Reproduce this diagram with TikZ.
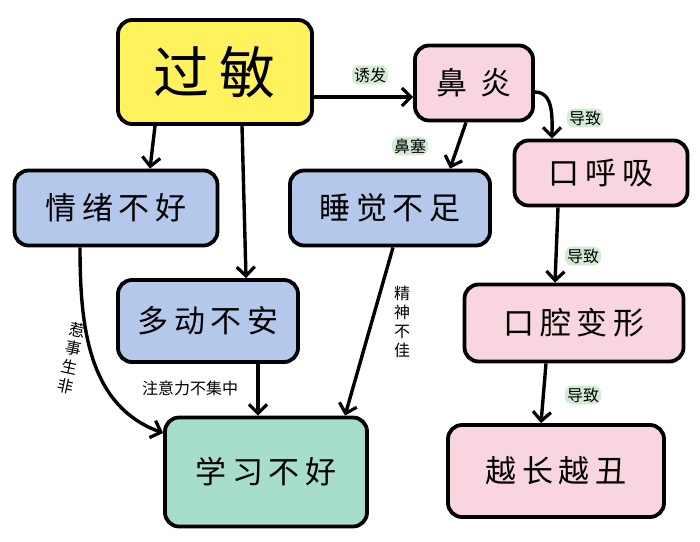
\documentclass[tikz,border=0pt]{standalone}
\usepackage{fontspec}
\newfontfamily\cjk{Noto Sans CJK SC}
\newfontfamily\cjks[LetterSpace=18]{Noto Sans CJK SC}
\usetikzlibrary{arrows.meta}
\definecolor{cyel}{HTML}{FFF25C}
\definecolor{cpink}{HTML}{F9D6DF}
\definecolor{cblue}{HTML}{B4C8EC}
\definecolor{cgreen}{HTML}{A7DDCB}
\definecolor{clab}{HTML}{D3EBD5}
\tikzset{
 box/.style={draw=black,line width=3.8pt,rounded corners=14pt,font=\cjks\fontsize{31}{34}\selectfont,inner sep=0pt},
 conn/.style={line width=3.4pt,-{Straight Barb[length=9pt,width=18pt,line width=3.2pt]}},
 lab/.style={font=\cjk\fontsize{16}{18}\selectfont,fill=clab,rounded corners=7pt,inner sep=2pt},
 plainlab/.style={font=\cjk\fontsize{16}{19}\selectfont,inner sep=1pt,align=center}
}
\begin{document}
\begin{tikzpicture}[x=1pt,y=-1pt]
\useasboundingbox (0,0) rectangle (700,541);
\node[box,fill=cyel,minimum width=194pt,minimum height=104pt,font=\cjks\fontsize{56}{60}\selectfont] (gm) at (215,72) {过敏};
\node[box,fill=cpink,minimum width=118pt,minimum height=75pt] (by) at (474,83) {鼻\ 炎};
\node[box,fill=cblue,minimum width=203pt,minimum height=75pt] (qx) at (116,208) {情绪不好};
\node[box,fill=cblue,minimum width=200pt,minimum height=75pt] (sj) at (390,208) {睡觉不足};
\node[box,fill=cpink,minimum width=173pt,minimum height=65pt] (kh) at (601,173) {口呼吸};
\node[box,fill=cblue,minimum width=180pt,minimum height=82pt] (dd) at (208,321) {多动不安};
\node[box,fill=cpink,minimum width=219pt,minimum height=77pt] (kq) at (574,323) {口腔变形};
\node[box,fill=cgreen,minimum width=202pt,minimum height=109pt] (xx) at (266,472) {学习不好};
\node[box,fill=cpink,minimum width=216pt,minimum height=92pt] (yz) at (556,471) {越长越丑};
\draw[conn] (gm.east|-0,97) -- (by.west|-0,97);
\node[lab] (l1) at (370,75) {诱发};
\draw[conn] (gm.south-|155,0) -- (qx.north-|150,0);
\draw[conn] (gm.south-|242,0) -- (dd.north-|246,0);
\draw[conn] (by.south-|466,0) -- (sj.north-|450,0);
\node[lab] (l2) at (410,146) {鼻塞};
\draw[conn] (by.east|-0,92) to[out=0,in=90] (kh.north-|552,0);
\node[lab] (l3) at (585,118) {导致};
\draw[conn] (kh.south-|558,0) -- (kq.north-|555,0);
\node[lab] (l4) at (583,256) {导致};
\draw[conn] (kq.south-|546,0) -- (yz.north-|541,0);
\node[lab] (l5) at (583,395) {导致};
\draw[conn] (qx.south-|80,0) to[out=-90,in=160] (xx.west|-0,433);
\node[plainlab,rotate=-12] (l6) at (72,358) {惹\\事\\生\\非};
\draw[conn] (dd.south-|258,0) -- (xx.north-|258,0);
\node[plainlab] (l7) at (190,388) {注意力不集中};
\draw[conn] (sj.south-|393,0) -- (xx.north-|345,0);
\node[plainlab] (l8) at (402,322) {精\\神\\不\\佳};
\end{tikzpicture}
\end{document}
